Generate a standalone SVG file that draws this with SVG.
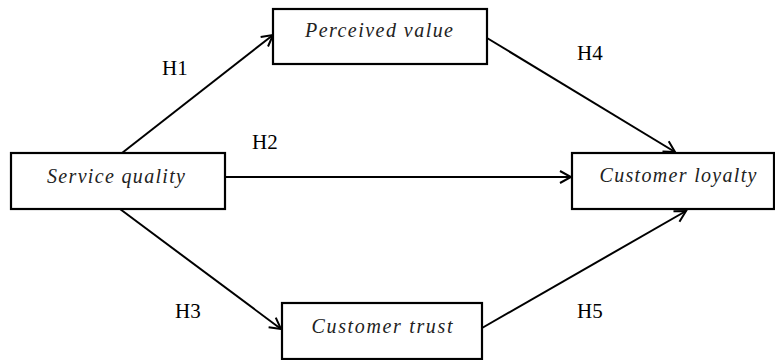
<svg xmlns="http://www.w3.org/2000/svg" width="775" height="360" viewBox="0 0 775 360">
<style>
.box{fill:#fff;stroke:#000;stroke-width:2.2}
.nt{font-family:'Liberation Serif','Times New Roman',serif;font-style:italic;font-size:20px;fill:#222;text-anchor:middle}
.lb{font-family:'Liberation Serif','Times New Roman',serif;font-size:21px;fill:#000}
.ed{stroke:#000;stroke-width:2;fill:none;marker-end:url(#ah)}
</style>
<defs>
<marker id="ah" markerUnits="userSpaceOnUse" markerWidth="16" markerHeight="16" viewBox="0 0 16 16" refX="14" refY="8" orient="auto">
<path d="M3,2 L14,8 L3,14" fill="none" stroke="#000" stroke-width="2"/>
</marker>
</defs>
<rect width="775" height="360" fill="#fff"/>
<g id="connectors">
<line class="ed" x1="122" y1="153" x2="273" y2="35"/>
<line class="ed" x1="225" y1="177" x2="571" y2="177"/>
<line class="ed" x1="487" y1="38" x2="675" y2="152"/>
<line class="ed" x1="120" y1="209" x2="281" y2="329"/>
<line class="ed" x1="482" y1="328" x2="686" y2="211"/>
<text class="lb" x="162" y="75">H1</text>
<text class="lb" x="252" y="149">H2</text>
<text class="lb" x="577" y="60">H4</text>
<text class="lb" x="175" y="318">H3</text>
<text class="lb" x="577" y="318">H5</text>
</g>
<g id="service-quality">
<rect class="box" x="11" y="153" width="214" height="56"/>
<text class="nt" x="116" y="183" textLength="138" lengthAdjust="spacing">Service quality</text>
</g>
<g id="perceived-value">
<rect class="box" x="273" y="9" width="214" height="55"/>
<text class="nt" x="379" y="37" textLength="148" lengthAdjust="spacing">Perceived value</text>
</g>
<g id="customer-loyalty">
<rect class="box" x="572" y="153" width="202" height="56"/>
<text class="nt" x="678" y="182" textLength="157" lengthAdjust="spacing">Customer loyalty</text>
</g>
<g id="customer-trust">
<rect class="box" x="282" y="303" width="200" height="56"/>
<text class="nt" x="382" y="333" textLength="141" lengthAdjust="spacing">Customer trust</text>
</g>
</svg>
